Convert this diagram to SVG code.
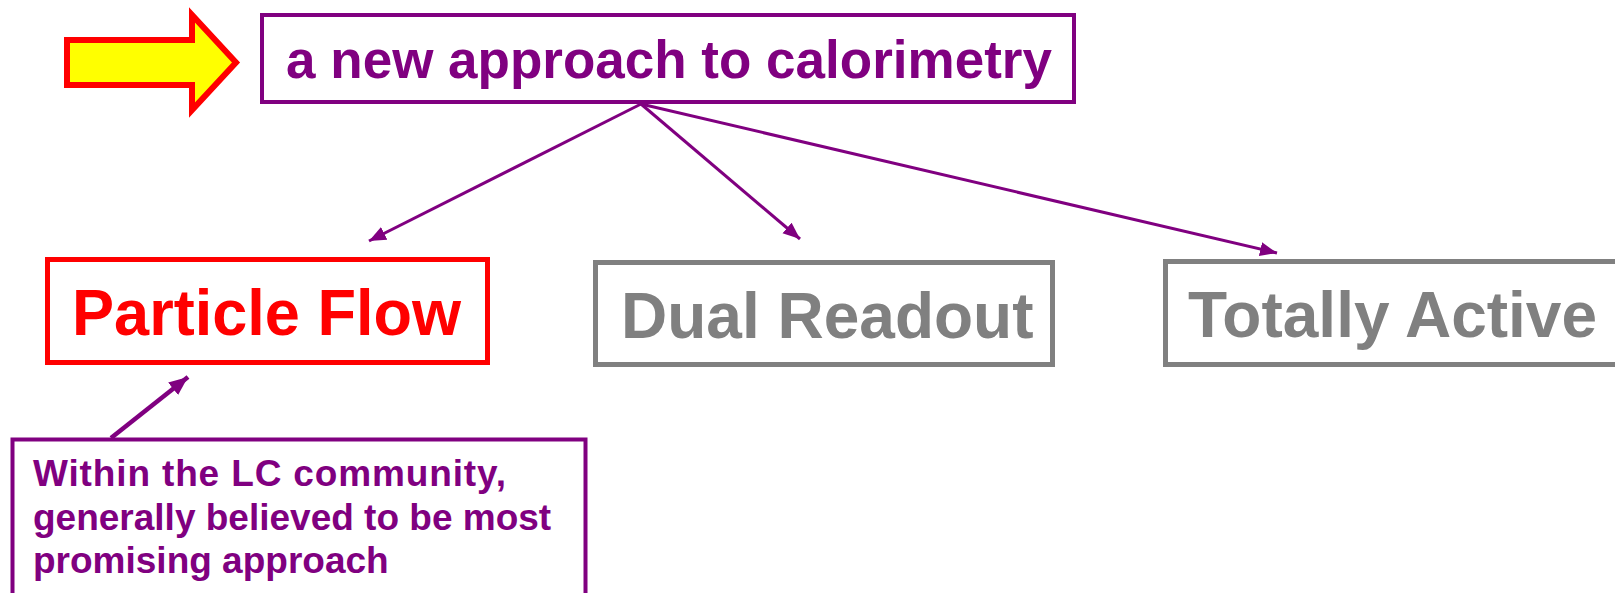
<svg xmlns="http://www.w3.org/2000/svg" width="1615" height="593" viewBox="0 0 1615 593">
  <defs>
    <style>
      .t { font-family: "Liberation Sans", Arial, sans-serif; font-weight: bold; }
      .purple { fill: #800080; }
      .box { fill: #ffffff; }
      .conn { stroke: #800080; stroke-width: 3; fill: none; }
      .conn.thick { stroke-width: 4.5; }
    </style>
    <marker id="ah" markerUnits="userSpaceOnUse" markerWidth="20" markerHeight="16" refX="17" refY="7" orient="auto">
      <path d="M0,0 L17,7 L0,14 Z" fill="#800080"/>
    </marker>
    <marker id="ah2" markerUnits="userSpaceOnUse" markerWidth="22" markerHeight="18" refX="19" refY="8" orient="auto">
      <path d="M0,0 L19,8 L0,16 Z" fill="#800080"/>
    </marker>
  </defs>
  <rect width="1615" height="593" fill="#ffffff"/>

  <g id="pointer-arrow">
    <polygon points="67,40 192,40 192,15 236,62.5 192,110 192,85 67,85" fill="#ffff00" stroke="#ff0000" stroke-width="6"/>
  </g>

  <g id="title">
    <rect class="box" x="262" y="15" width="812" height="87" stroke="#800080" stroke-width="4"/>
    <text class="t purple" x="669" y="78" font-size="53" text-anchor="middle">a new approach to calorimetry</text>
  </g>

  <g id="particle-flow">
    <rect class="box" x="47.5" y="259.5" width="440" height="103" stroke="#ff0000" stroke-width="5"/>
    <text class="t" x="72" y="335" font-size="64" fill="#ff0000" textLength="389" lengthAdjust="spacingAndGlyphs">Particle Flow</text>
  </g>

  <g id="dual-readout">
    <rect class="box" x="595.5" y="262.5" width="457" height="102" stroke="#808080" stroke-width="5"/>
    <text class="t" x="621" y="338" font-size="64" fill="#808080">Dual Readout</text>
  </g>

  <g id="totally-active">
    <rect class="box" x="1165.5" y="261.5" width="500" height="103" stroke="#808080" stroke-width="5"/>
    <text class="t" x="1188" y="337" font-size="64" fill="#808080">Totally Active</text>
  </g>

  <g id="callout">
    <rect class="box" x="12.5" y="439.5" width="573" height="200" stroke="#800080" stroke-width="4"/>
    <text class="t purple" font-size="37">
      <tspan x="33" y="486" textLength="473" lengthAdjust="spacing">Within the LC community,</tspan>
      <tspan x="33" y="530">generally believed to be most</tspan>
      <tspan x="33" y="573">promising approach</tspan>
    </text>
  </g>

  <g id="connectors">
    <line class="conn" x1="641" y1="104" x2="369" y2="241" marker-end="url(#ah)"/>
    <line class="conn" x1="641" y1="104" x2="800" y2="239" marker-end="url(#ah)"/>
    <line class="conn" x1="641" y1="104" x2="1277" y2="253" marker-end="url(#ah)"/>
    <line class="conn thick" x1="111" y1="438" x2="188" y2="377" marker-end="url(#ah2)"/>
  </g>
</svg>
